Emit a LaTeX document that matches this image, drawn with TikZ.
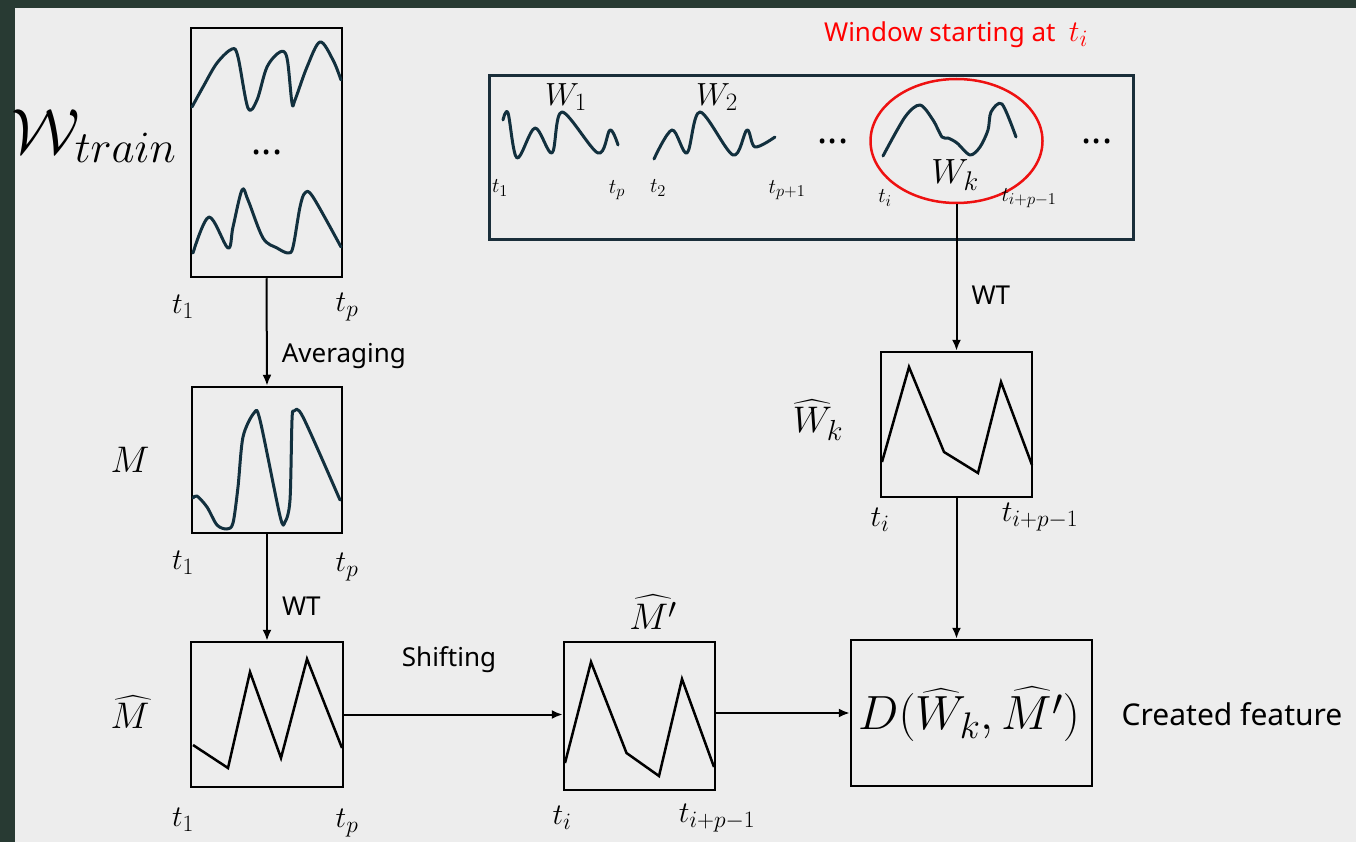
\RequirePackage{fix-cm}
\documentclass[tikz,border=0pt]{standalone}
\usepackage{exscale}
\usepackage{fontspec}
\newfontfamily\lab{Noto Sans}
\usetikzlibrary{shapes.geometric,arrows.meta}
\DeclareMathSizes{21}{21}{16.5}{12}
\DeclareMathSizes{30}{30}{23.5}{17}
\DeclareMathSizes{32}{32}{25}{18}
\DeclareMathSizes{35}{35}{27}{20}
\DeclareMathSizes{37}{37}{29}{21}
\DeclareMathSizes{48}{48}{37}{27}
\DeclareMathSizes{64}{64}{44.8}{32}
\definecolor{bgc}{HTML}{EDEDED}
\definecolor{framec}{HTML}{283A33}
\definecolor{wavec}{HTML}{12303E}
\definecolor{bigc}{HTML}{1A2E3A}
\definecolor{redt}{HTML}{FF0000}
\definecolor{rede}{HTML}{EE1111}
\begin{document}
\begin{tikzpicture}[x=1pt,y=-1pt,
  box/.style={draw=black,line width=2.5pt,inner sep=0pt},
  wave/.style={draw=wavec,line width=3pt,line cap=round,line join=round},
  zig/.style={draw=black,line width=2.5pt,line join=miter},
  arr/.style={draw=black,line width=2pt,-{Latex[length=11pt,width=9pt]}},
  tl/.style={inner sep=0pt,font=\fontsize{30}{36}\selectfont},
  ts/.style={inner sep=0pt,font=\fontsize{21}{25}\selectfont},
  big/.style={inner sep=0pt,font=\fontsize{37}{44}\selectfont},
  wl/.style={inner sep=0pt,font=\fontsize{32}{38}\selectfont},
  sl/.style={inner sep=0pt,font=\lab\fontsize{26}{31}\selectfont},
  dots/.style={inner sep=0pt,font=\lab\bfseries\fontsize{38}{44}\selectfont},
]
% background and frame
\fill[bgc] (0,0) rectangle (1356,842);
\fill[framec] (0,0) rectangle (1356,8);
\fill[framec] (0,0) rectangle (15,842);

% ---------- left column ----------
\node[box,minimum width=151pt,minimum height=249pt] (wtr) at (266.5,152.5) {};
\node[inner sep=0pt,font=\fontsize{64}{72}\selectfont] (wtrl) at (94,136) {$\mathcal{W}_{train}$};
\node[dots] (wdots) at (267,152) {...};
\draw[wave] plot[smooth,tension=0.55] coordinates {(192,107) (203,87) (217,63) (232,49) (238,57) (248,108) (257,100) (267,67) (280,52) (287,58) (292,103) (295,100) (307,67) (320,42) (333,60) (341,80)};
\draw[wave] plot[smooth,tension=0.55] coordinates {(193,253) (209,217) (228,248) (233,227) (242,190) (248,200) (263,238) (277,248) (288,253) (293,247) (300,207) (305,193) (313,197) (341,247)};
\node[tl] (wt1) at (183,307) {$t_1$};
\node[tl] (wtp) at (347,307) {$t_p$};

\node[box,minimum width=150pt,minimum height=146pt] (mbox) at (267,460) {};
\node[big] (ml) at (130,460) {$M$};
\draw[wave] plot[smooth,tension=0.5] coordinates {(193,498) (197,496) (207,507) (217,525) (227,529) (233,523) (238,487) (243,437) (254,413) (260,420) (280,516) (285,522) (290,500) (292,420) (294,411) (303,417) (340,500)};
\node[tl] (mt1) at (183,563) {$t_1$};
\node[tl] (mtp) at (347,567) {$t_p$};

\node[box,minimum width=152pt,minimum height=145pt] (mhat) at (267,714.5) {};
\node[big] (mhl) at (130,712) {$\widehat{M}$};
\draw[zig] (193,745) -- (228,768) -- (250,672) -- (281,758) -- (307,659) -- (342,748);
\node[tl] (mht1) at (183,820) {$t_1$};
\node[tl] (mhtp) at (347,823) {$t_p$};

\node[box,minimum width=151pt,minimum height=148pt] (mhp) at (639.5,716) {};
\node[big] (mhpl) at (653,612) {$\widehat{M'}$};
\draw[zig] (565,763) -- (591,662) -- (626.5,753) -- (659,776) -- (682,679) -- (714,767);
\node[tl] (mpti) at (562,818) {$t_i$};
\node[tl] (mptk) at (717,818) {$t_{i+p-1}$};

\node[box,minimum width=241pt,minimum height=146pt] (dbox) at (971.5,713) {};
\node[inner sep=0pt,font=\fontsize{48}{56}\selectfont] (dl) at (969,714) {$D(\widehat{W}_k,\widehat{M'})$};
\node[sl,font=\lab\fontsize{30}{36}\selectfont] (cf) at (1232,714) {Created feature};

% ---------- top window box ----------
\node[draw=bigc,line width=3pt,inner sep=0pt,minimum width=644pt,minimum height=164pt] (bigbox) at (811,158) {};
\node[wl] (w1) at (566,97) {$W_1$};
\node[wl] (w2) at (717,97) {$W_2$};
\draw[wave] plot[smooth,tension=0.55] coordinates {(503,120) (508,113) (517,158) (535,128) (552,153) (562,112) (598,153) (610,130) (618,145)};
\draw[wave] plot[smooth,tension=0.55] coordinates {(654,159) (672,130) (687,153) (700,112) (733,155) (747,130) (755,147) (775,137)};
\node[ts] (b1) at (500,188) {$t_1$};
\node[ts] (b2) at (617,190) {$t_p$};
\node[ts] (b3) at (658,188) {$t_2$};
\node[ts] (b4) at (787,190) {$t_{p+1}$};
\node[dots] (bd1) at (833,141) {...};
\node[ellipse,draw=rede,line width=2.5pt,inner sep=0pt,minimum width=172pt,minimum height=124pt] (ell) at (956.5,141) {};
\draw[wave] plot[smooth,tension=0.5] coordinates {(883,156) (905,117) (920,105) (933,120) (942,137) (948,138) (957,143) (970,155) (980,147) (988,130) (991,112) (1002,104) (1016,137)};
\node[inner sep=0pt,font=\fontsize{35}{42}\selectfont] (wk) at (955,175) {$W_k$};
\node[ts] (b5) at (885,198) {$t_i$};
\node[ts] (b6) at (1029,198) {$t_{i+p-1}$};
\node[dots] (bd2) at (1097,141) {...};
\node[sl,text=redt] (win) at (956,35) {Window starting at\ \ {\fontsize{30}{36}\selectfont$t_i$}};

% ---------- right column ----------
\node[box,minimum width=151pt,minimum height=145pt] (wkh) at (956.5,424.5) {};
\node[big] (wkhl) at (818,420) {$\widehat{W}_k$};
\draw[zig] (882,462) -- (909,367) -- (944,452) -- (978,473) -- (1001,382) -- (1032,465);
\node[tl] (wkti) at (880,520) {$t_i$};
\node[tl] (wktk) at (1040,517) {$t_{i+p-1}$};

% ---------- connectors ----------
\draw[arr] (wtr.south) -- (mbox.north) node[pos=0.72,right=14pt,sl] {Averaging};
\draw[arr] (mbox.south) -- (mhat.north) node[pos=0.68,right=14pt,sl] {WT};
\draw[arr] (mhat.east) -- (mhat.east -| mhp.west);
\node[sl] (shift) at (449,660) {Shifting};
\draw[arr] (mhp.east |- dbox.west) -- (dbox.west);
\draw[arr] (ell.south) -- (wkh.north) node[pos=0.62,right=14pt,sl] {WT};
\draw[arr] (wkh.south) -- (wkh.south |- dbox.north);
\end{tikzpicture}
\end{document}
